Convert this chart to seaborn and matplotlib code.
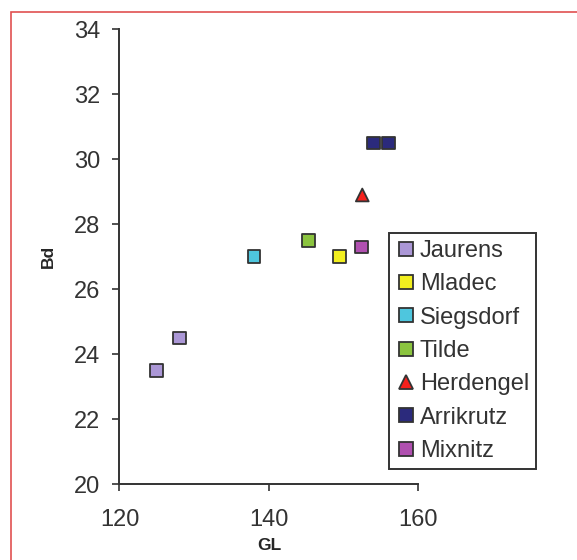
import matplotlib
matplotlib.use('Agg')
import matplotlib.pyplot as plt
import matplotlib.patches as mpatches
import numpy as np
import pandas as pd
import seaborn as sns

# values
site = ['Jaurens', 'Jaurens', 'Mladec', 'Siegsdorf', 'Tilde', 'Herdengel',
        'Arrikrutz', 'Arrikrutz', 'Mixnitz']
gl = [125.0, 128.0, 149.5, 138.0, 145.3, 152.5, 154.0, 156.0, 152.4]
bd = [23.5, 24.5, 27.0, 27.0, 27.5, 28.9, 30.5, 30.5, 27.3]

order = ['Jaurens', 'Mladec', 'Siegsdorf', 'Tilde', 'Herdengel', 'Arrikrutz', 'Mixnitz']
colors = ['#ab97d6', '#f2ef1f', '#4ec6de', '#8bc43f', '#f5201c', '#2b2a7c', '#b050b0']
markers = ['s', 's', 's', 's', '^', 's', 's']

df = pd.DataFrame({'GL': gl, 'Bd': bd, 'site': site})

sns.set_style('white')
plt.rcParams['font.family'] = ['Liberation Sans', 'DejaVu Sans']

fig = plt.figure(figsize=(5.77, 5.6), dpi=100)
ax = fig.add_axes([0.207, 0.135, 0.518, 0.813])

sns.scatterplot(data=df, x='GL', y='Bd', hue='site', style='site',
                hue_order=order, style_order=order,
                palette=dict(zip(order, colors)), markers=dict(zip(order, markers)),
                s=85, edgecolor='#333333', linewidth=1.3, ax=ax, legend=True)

ax.set_xlim(120, 160)
ax.set_ylim(20, 34)
ax.set_xticks([120, 140, 160])
ax.set_yticks(np.arange(20, 35, 2))
ax.set_xlabel('GL', fontsize=12.5, fontweight='bold', labelpad=5)
ax.set_ylabel('Bd', fontsize=12.5, fontweight='bold', labelpad=13)
ax.tick_params(axis='both', direction='out', length=5, width=1.2, color='#333333',
               labelsize=17, labelcolor='#333333', left=True, bottom=True)
ax.tick_params(axis='x', pad=13)
ax.tick_params(axis='y', pad=9)
for side in ['top', 'right']:
    ax.spines[side].set_visible(False)
for side in ['left', 'bottom']:
    ax.spines[side].set_color('#333333')
    ax.spines[side].set_linewidth(1.4)
for c in ax.collections:
    c.set_clip_on(False)

handles, labels = ax.get_legend_handles_labels()
ax.legend_.remove()
leg = fig.legend(handles, labels, loc='upper left', bbox_to_anchor=(389 / 577, 1 - 233 / 560),
                 fontsize=17, frameon=True, fancybox=False, framealpha=1,
                 edgecolor='#333333', borderpad=0.3, labelspacing=0.48, handletextpad=0.2,
                 handlelength=0.8, borderaxespad=0, markerscale=1.05)
leg.get_frame().set_linewidth(1.4)
for t in leg.get_texts():
    t.set_color('#333333')

# red frame around the figure
fig.patches.append(mpatches.Rectangle((11 / 577, -0.2), 1.2, 1 - 12 / 560 + 0.2,
                                      transform=fig.transFigure, fill=False,
                                      edgecolor='#e05050', linewidth=1.2))

fig.savefig('out.png', dpi=100)
